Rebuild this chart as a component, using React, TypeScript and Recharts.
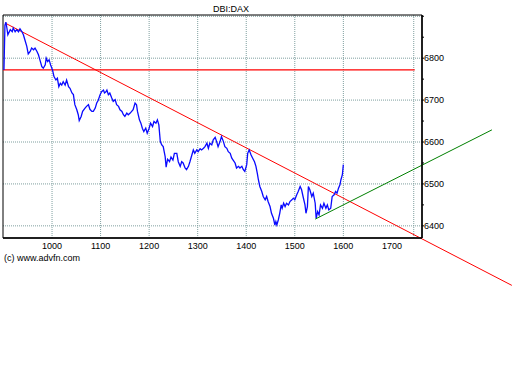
import React from "react";
import { LineChart, Line, XAxis, YAxis, CartesianGrid, ReferenceLine, ReferenceArea } from "recharts";

const xs = [901,903,905,907,909,914,918,920,924,927,931,934,938,941,944,948,951,955,958,962,965,969,972,975,979,982,986,988,991,994,997,1001,1004,1008,1011,1014,1017,1020,1023,1027,1030,1034,1037,1041,1044,1047,1051,1054,1056,1060,1063,1068,1071,1075,1078,1082,1085,1089,1092,1095,1099,1102,1106,1108,1111,1113,1116,1119,1123,1126,1130,1133,1137,1140,1144,1147,1150,1154,1157,1161,1164,1167,1171,1174,1176,1180,1183,1186,1189,1193,1196,1200,1203,1207,1210,1214,1217,1220,1223,1226,1229,1233,1235,1238,1242,1245,1249,1252,1257,1260,1264,1267,1270,1274,1277,1281,1284,1288,1291,1294,1298,1301,1305,1308,1312,1315,1319,1322,1325,1329,1332,1336,1339,1342,1346,1349,1353,1356,1360,1363,1367,1370,1373,1377,1380,1384,1387,1391,1394,1397,1401,1403,1406,1410,1413,1417,1420,1423,1425,1428,1432,1435,1439,1442,1445,1449,1452,1456,1459,1461,1463,1466,1469,1472,1474,1477,1480,1483,1487,1490,1494,1497,1500,1504,1507,1511,1514,1517,1521,1523,1526,1528,1531,1535,1538,1542,1544,1547,1550,1553,1557,1560,1564,1567,1570,1574,1577,1581,1584,1587,1590,1593,1595,1598,1600];
const prices = [6772,6879,6886,6872,6856,6868,6863,6872,6863,6868,6863,6870,6863,6856,6844,6828,6810,6816,6824,6820,6824,6816,6808,6796,6780,6776,6784,6800,6792,6796,6784,6772,6756,6748,6752,6732,6740,6736,6744,6736,6748,6732,6728,6717,6713,6689,6677,6665,6651,6661,6673,6681,6685,6689,6678,6673,6673,6681,6693,6699,6713,6720,6724,6717,6720,6724,6713,6717,6705,6697,6701,6689,6685,6677,6673,6665,6661,6669,6665,6669,6673,6677,6693,6689,6673,6653,6645,6633,6625,6633,6621,6633,6645,6637,6649,6645,6653,6641,6601,6593,6589,6565,6540,6559,6553,6564,6557,6573,6573,6553,6542,6553,6550,6538,6534,6542,6553,6569,6581,6573,6581,6577,6584,6581,6585,6589,6597,6585,6597,6593,6605,6611,6601,6589,6601,6613,6601,6589,6585,6577,6573,6562,6557,6550,6538,6542,6538,6542,6534,6530,6546,6573,6581,6569,6562,6553,6542,6524,6510,6494,6482,6470,6462,6470,6458,6446,6430,6418,6402,6410,6402,6414,6430,6450,6442,6454,6446,6454,6450,6458,6462,6466,6462,6474,6482,6494,6486,6470,6450,6430,6446,6494,6486,6470,6478,6454,6418,6434,6426,6450,6442,6454,6442,6450,6438,6442,6470,6474,6482,6478,6490,6498,6510,6522,6546];

const xTicks = [1000, 1100, 1200, 1300, 1400, 1500, 1600, 1700];
const yTicks = [6400, 6450, 6500, 6550, 6600, 6650, 6700, 6750, 6800, 6850, 6900];
const xGrid = [1000, 1100, 1200, 1300, 1400, 1500, 1600, 1700, 1745];
const yGrid = [6400, 6500, 6600, 6700, 6800, 6900];

const resistanceLevel = 6772;
const resistanceFrom = 899;
const resistanceTo = 1747;
const downTrend = [
  { x: 903, y: 6884 },
  { x: 1947, y: 6258 },
];
const upTrend = [
  { x: 1542, y: 6416 },
  { x: 1906, y: 6629 },
];

const xDomain = [899, 1762];
const yDomain = [6371, 6903];

const data = xs.map((x, i) => ({ x, price: prices[i] }));

const FONT = "'Liberation Sans', Arial, sans-serif";

export default function App() {
  return (
    <div style={{ position: "absolute", left: 0, top: 0, width: 512, height: 384, background: "#fff" }}>
      <LineChart
        width={512}
        height={300}
        data={data}
        margin={{ top: 15, right: 50, bottom: 42, left: 3 }}
      >
        <CartesianGrid
          yAxisId="r"
          stroke="#7f9f9f"
          strokeDasharray="1 1"
          horizontalValues={yGrid}
          verticalValues={xGrid}
        />
        <XAxis
          type="number"
          dataKey="x"
          domain={xDomain}
          ticks={xTicks}
          allowDataOverflow
          height={20}
          tickLine={false}
          tickSize={5}
          tickMargin={0}
          axisLine={{ stroke: "#000", strokeWidth: 1.5 }}
          tick={{ fill: "#000", fontSize: 9, fontFamily: FONT }}
        />
        <YAxis
          yAxisId="r"
          orientation="right"
          type="number"
          domain={yDomain}
          ticks={yTicks}
          allowDataOverflow
          width={40}
          tickSize={2}
          tickMargin={0}
          tickLine={{ stroke: "#000" }}
          axisLine={{ stroke: "#000", strokeWidth: 1.5 }}
          tickFormatter={(v: number) => (v % 100 === 0 && v < 6900 ? String(v) : "")}
          tick={{ fill: "#000", fontSize: 9, fontFamily: FONT }}
        />
        <YAxis
          yAxisId="l"
          orientation="left"
          type="number"
          domain={yDomain}
          ticks={yTicks}
          allowDataOverflow
          width={0}
          mirror
          tickSize={3}
          tickMargin={0}
          tickLine={{ stroke: "#000" }}
          axisLine={{ stroke: "#000" }}
          tickFormatter={() => ""}
        />
        <ReferenceArea
          yAxisId="r"
          x1={xDomain[0]}
          x2={xDomain[1]}
          y1={yDomain[0]}
          y2={yDomain[1]}
          fill="none"
          stroke="#000"
          strokeWidth={1}
          ifOverflow="visible"
        />
        <ReferenceLine
          yAxisId="r"
          segment={[
            { x: resistanceFrom, y: resistanceLevel },
            { x: resistanceTo, y: resistanceLevel },
          ]}
          stroke="#ff0000"
          strokeWidth={1.2}
          ifOverflow="visible"
        />
        <ReferenceLine
          yAxisId="r"
          segment={downTrend}
          stroke="#ff0000"
          strokeWidth={1}
          ifOverflow="visible"
        />
        <Line
          yAxisId="r"
          type="linear"
          dataKey="price"
          stroke="#0a0aff"
          strokeWidth={1.3}
          dot={false}
          isAnimationActive={false}
        />
        <ReferenceLine
          yAxisId="r"
          segment={upTrend}
          stroke="#008000"
          strokeWidth={1}
          ifOverflow="visible"
        />
      </LineChart>
      <svg
        width={512}
        height={300}
        style={{ position: "absolute", left: 0, top: 0, pointerEvents: "none" }}
      >
        <text x={231} y={12} textAnchor="middle" fontSize={9} fontFamily={FONT} fill="#000">
          DBI:DAX
        </text>
        <text x={4} y={261} fontSize={9} fontFamily={FONT} fill="#000">
          (c) www.advfn.com
        </text>
      </svg>
    </div>
  );
}
